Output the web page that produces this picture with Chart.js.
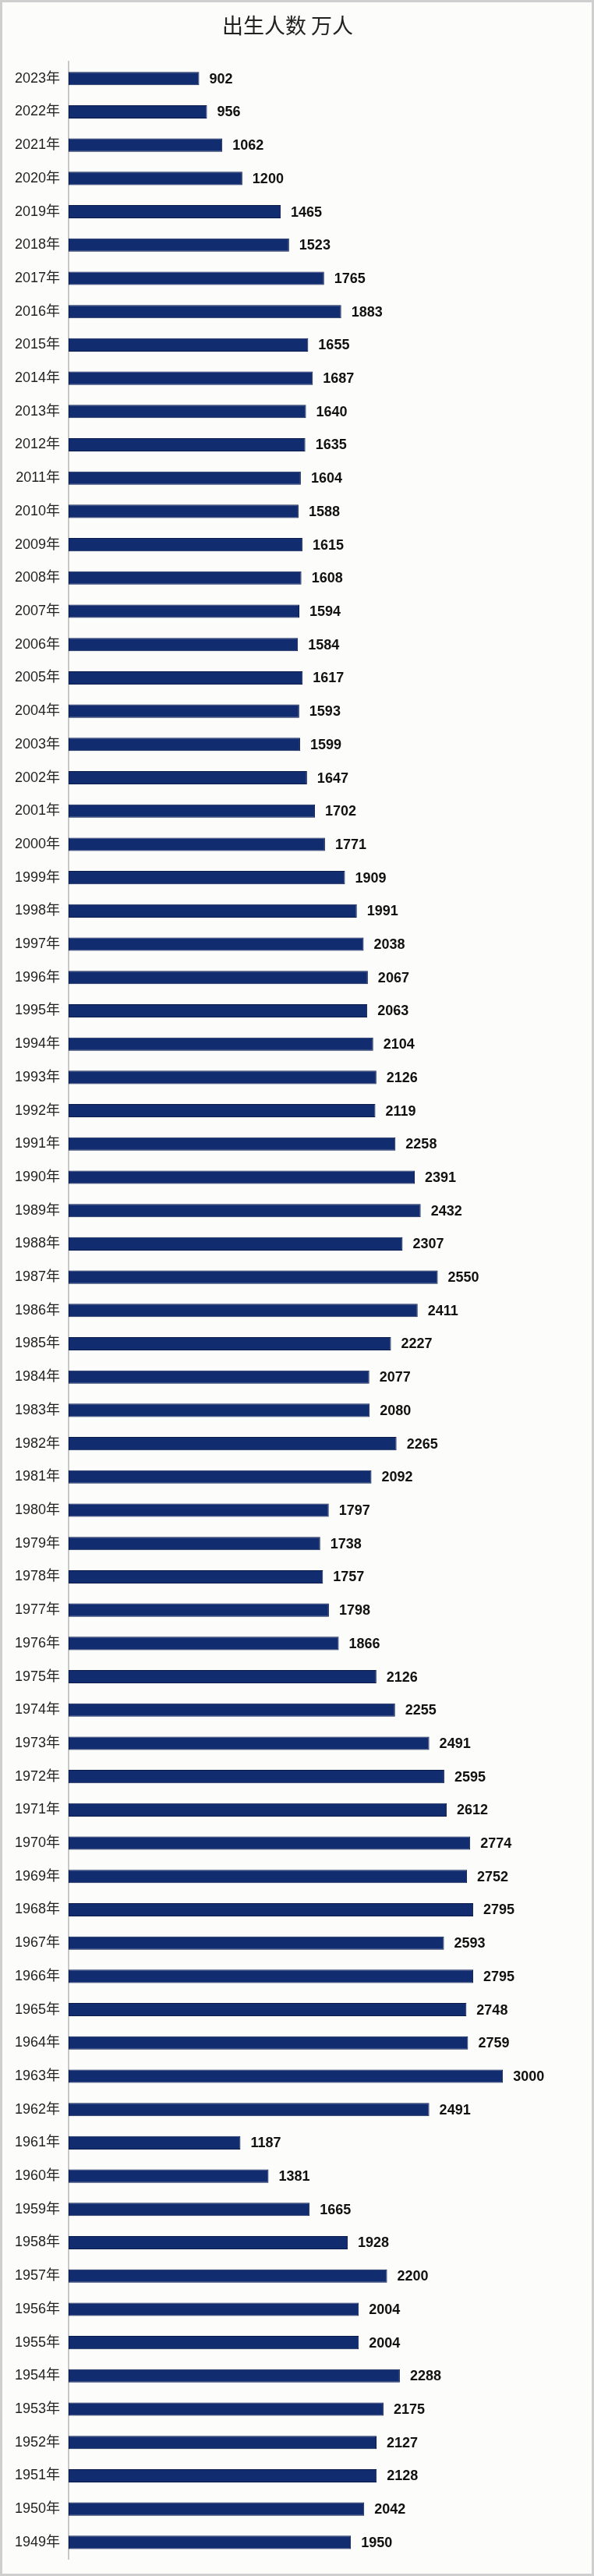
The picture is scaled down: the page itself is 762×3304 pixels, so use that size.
<!DOCTYPE html>
<html lang="zh">
<head>
<meta charset="utf-8">
<title>出生人数 万人</title>
<script src="https://cdn.jsdelivr.net/npm/chart.js@4/dist/chart.umd.min.js"></script>
<style>
    html, body { margin: 0; padding: 0; background: #ffffff; overflow: hidden; }
    canvas { display: block; }
</style>
</head>
<body>
<canvas id="grafico" width="762" height="3304"></canvas>
<script>
// dados (de 2023 ate 1949)
const anos = [
    '2023年', '2022年', '2021年', '2020年', '2019年', '2018年', '2017年', '2016年', '2015年', '2014年',
    '2013年', '2012年', '2011年', '2010年', '2009年', '2008年', '2007年', '2006年', '2005年', '2004年',
    '2003年', '2002年', '2001年', '2000年', '1999年', '1998年', '1997年', '1996年', '1995年', '1994年',
    '1993年', '1992年', '1991年', '1990年', '1989年', '1988年', '1987年', '1986年', '1985年', '1984年',
    '1983年', '1982年', '1981年', '1980年', '1979年', '1978年', '1977年', '1976年', '1975年', '1974年',
    '1973年', '1972年', '1971年', '1970年', '1969年', '1968年', '1967年', '1966年', '1965年', '1964年',
    '1963年', '1962年', '1961年', '1960年', '1959年', '1958年', '1957年', '1956年', '1955年', '1954年',
    '1953年', '1952年', '1951年', '1950年', '1949年'
];
const nascimentos = [
    902, 956, 1062, 1200, 1465, 1523, 1765, 1883, 1655, 1687,
    1640, 1635, 1604, 1588, 1615, 1608, 1594, 1584, 1617, 1593,
    1599, 1647, 1702, 1771, 1909, 1991, 2038, 2067, 2063, 2104,
    2126, 2119, 2258, 2391, 2432, 2307, 2550, 2411, 2227, 2077,
    2080, 2265, 2092, 1797, 1738, 1757, 1798, 1866, 2126, 2255,
    2491, 2595, 2612, 2774, 2752, 2795, 2593, 2795, 2748, 2759,
    3000, 2491, 1187, 1381, 1665, 1928, 2200, 2004, 2004, 2288,
    2175, 2127, 2128, 2042, 1950
];
const titulo = '出生人数 万人';

// fundo e moldura cinza
const fundoPlugin = {
    id: 'fundo',
    beforeDraw(chart) {
        const ctx = chart.ctx;
        ctx.save();
        ctx.fillStyle = '#fcfdfb';
        ctx.fillRect(0, 0, chart.width, chart.height);
        ctx.strokeStyle = '#cfcfcf';
        ctx.lineWidth = 3;
        ctx.strokeRect(1.5, 1.5, chart.width - 3, chart.height - 3);
        ctx.restore();
    }
};

// numero no fim de cada barra
const rotulosPlugin = {
    id: 'rotulos',
    afterDatasetsDraw(chart) {
        const ctx = chart.ctx;
        const meta = chart.getDatasetMeta(0);
        ctx.save();
        ctx.font = 'bold 18px "Liberation Sans", Arial, sans-serif';
        ctx.fillStyle = '#111111';
        ctx.textAlign = 'left';
        ctx.textBaseline = 'middle';
        meta.data.forEach(function (barra, i) {
            ctx.fillText(nascimentos[i], barra.x + 13, barra.y + 1);
        });
        ctx.restore();
    }
};

const config = {
    type: 'bar',
    data: {
        labels: anos,
        datasets: [{
            label: titulo,
            data: nascimentos,
            backgroundColor: '#122c70',
            borderColor: '#0a1b4c',
            borderWidth: 1,
            borderSkipped: false,
            barPercentage: 0.4,
            categoryPercentage: 1
        }]
    },
    options: {
        indexAxis: 'y',
        responsive: false,
        animation: false,
        devicePixelRatio: 1,
        layout: {
            padding: { top: 0, left: 0, right: 24, bottom: 0 }
        },
        plugins: {
            legend: { display: false },
            tooltip: { enabled: false },
            title: {
                display: true,
                text: titulo,
                color: '#222222',
                font: { family: '"Noto Sans CJK SC", sans-serif', size: 27, weight: 'normal' },
                padding: { top: 17, bottom: 30 }
            }
        },
        scales: {
            x: {
                display: false,
                min: 0,
                max: 3500
            },
            y: {
                afterFit: function (scale) {
                    scale.width = 88;
                },
                grid: { display: false, drawTicks: false },
                border: { display: true, color: '#c9c9c9', width: 2 },
                ticks: {
                    color: '#222222',
                    padding: 11,
                    autoSkip: false,
                    font: { family: '"Liberation Sans", "Noto Sans CJK SC", sans-serif', size: 18 }
                }
            }
        }
    },
    plugins: [fundoPlugin, rotulosPlugin]
};

const myChart = new Chart(document.getElementById('grafico'), config);
</script>
</body>
</html>
